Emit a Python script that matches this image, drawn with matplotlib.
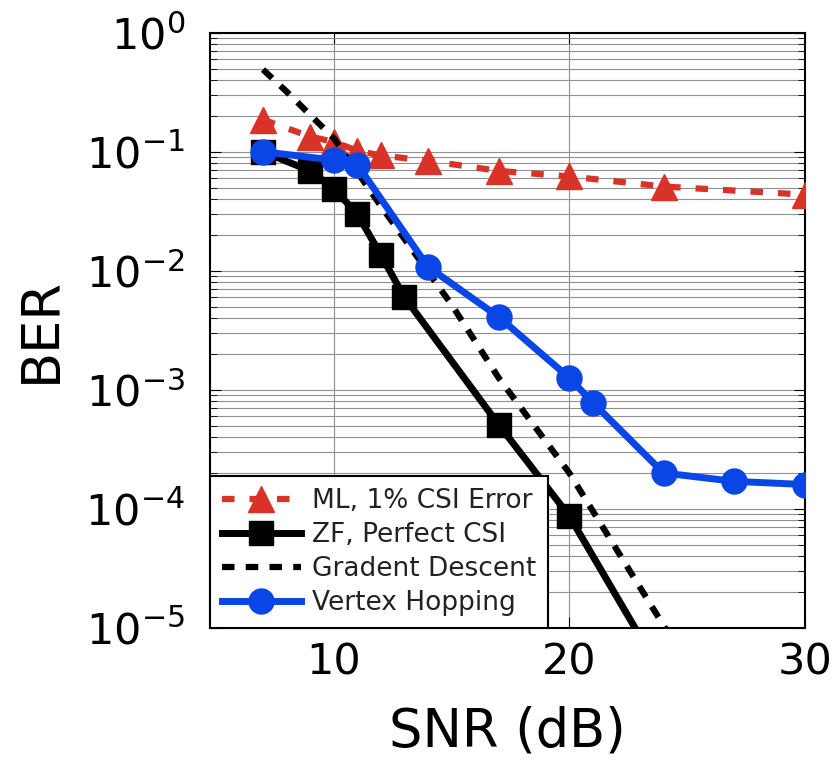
import numpy as np
import matplotlib.pyplot as plt
from matplotlib.ticker import LogLocator, NullFormatter

# values (SNR in dB, BER)
snr_ml = [7, 9, 10, 11, 12, 14, 17, 20, 24, 30]
ber_ml = [0.186, 0.134, 0.121, 0.102, 0.093, 0.084, 0.069, 0.062, 0.051, 0.0436]

snr_zf = [7, 9, 10, 11, 12, 13, 17, 20, 25]
ber_zf = [0.1, 0.069, 0.049, 0.030, 0.0136, 0.006, 5.1e-4, 8.7e-5, 1.8e-6]

snr_gd = [7, 8, 10, 12, 15, 17, 20, 25]
ber_gd = [0.49, 0.32, 0.13, 0.035, 5.2e-3, 1.26e-3, 2.0e-4, 5.0e-6]

snr_vh = [7, 10, 11, 14, 17, 20, 21, 24, 27, 30]
ber_vh = [0.1, 0.085, 0.078, 0.0108, 0.0041, 1.26e-3, 7.8e-4, 2.0e-4, 1.7e-4, 1.6e-4]

red = '#d93228'
blue = '#0a46e6'

plt.rcParams['font.family'] = ['DejaVu Sans']
plt.rcParams['mathtext.fontset'] = 'dejavusans'

fig = plt.figure(figsize=(8.35, 7.78), dpi=100)
ax = fig.add_axes([0.2515, 0.193, 0.7125, 0.765])

ax.plot(snr_ml, ber_ml, color=red, lw=4.5, ls=(0, (2.0, 2.4)), marker='^',
        ms=19, label='ML, 1% CSI Error', zorder=3)
ax.plot(snr_zf, ber_zf, color='black', lw=5, marker='s', ms=17,
        label='ZF, Perfect CSI', zorder=4)
ax.plot(snr_gd, ber_gd, color='black', lw=4.5, ls=(0, (2.0, 1.8)),
        label='Gradent Descent', zorder=3)
ax.plot(snr_vh, ber_vh, color=blue, lw=5, marker='o', ms=18,
        label='Vertex Hopping', zorder=5)

ax.set_yscale('log')
ax.set_xlim(4.75, 30)
ax.set_ylim(1e-5, 1)
ax.set_xticks([10, 20, 30])
ax.yaxis.set_major_locator(LogLocator(base=10, numticks=10))
ax.yaxis.set_minor_locator(LogLocator(base=10, subs=np.arange(2, 10), numticks=20))
ax.yaxis.set_minor_formatter(NullFormatter())

ax.grid(True, which='major', axis='x', color='#909090', lw=0.8)
ax.grid(True, which='both', axis='y', color='#909090', lw=0.8)
ax.tick_params(which='both', direction='in', top=True, right=True)
ax.tick_params(which='major', length=8, labelsize=31)
ax.tick_params(which='minor', length=5)
ax.tick_params(axis='x', pad=10)
ax.tick_params(axis='y', pad=18)
for s in ax.spines.values():
    s.set_linewidth(1.5)

ax.set_xlabel('SNR (dB)', fontsize=38, labelpad=16)
ax.set_ylabel('BER', fontsize=38, labelpad=13)

leg = ax.legend(loc='lower left', fontsize=19, handlelength=3.0,
                borderaxespad=0, fancybox=False, framealpha=1,
                edgecolor='black', labelspacing=0.3, handletextpad=0.4,
                borderpad=0.45)
leg.get_frame().set_linewidth(1.5)
for t in leg.get_texts():
    t.set_color('#222222')

plt.savefig('out.png', dpi=100)
plt.close()
